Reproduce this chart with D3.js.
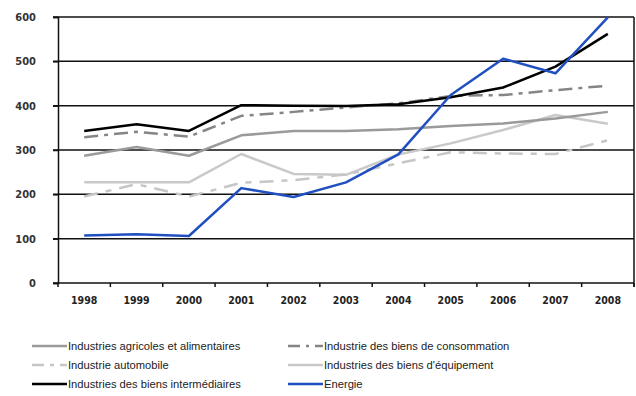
<!DOCTYPE html>
<html><head><meta charset="utf-8">
<script src="https://cdn.jsdelivr.net/npm/d3@7"></script>
<style>body{margin:0;background:#fff}svg{display:block}</style>
</head><body>
<svg id="c" width="636" height="396"></svg>
<script>
const years = ["1998","1999","2000","2001","2002","2003","2004","2005","2006","2007","2008"];
const yTicks = [0,100,200,300,400,500,600];
const agricoles = [287,307,287,333,343,343,347,354,360,371,386];
const consommation = [329,341,330,377,386,396,405,422,424,435,445];
const automobile = [195,223,195,226,232,245,270,295,292,291,322];
const equipement = [227,227,227,291,246,244,290,315,345,379,359];
const intermediaires = [343,358,343,401,400,399,403,419,441,488,562];
const energie = [107,110,106,214,194,227,290,424,506,473,599];
const seriesNames = ["Industries agricoles et alimentaires","Industrie des biens de consommation","Industrie automobile","Industries des biens d'équipement","Industries des biens intermédiaires","Energie"];
const seriesData = [agricoles, consommation, automobile, equipement, intermediaires, energie];
const seriesStyle = [
  {c:"#9a9a9a", d:null},
  {c:"#858585", d:"14,6,4,6"},
  {c:"#c6c6c6", d:"14,8,6,8"},
  {c:"#c9c9c9", d:null},
  {c:"#000000", d:null},
  {c:"#1f4fc0", d:null}
];
const drawOrder = [3,2,0,1,4,5];

const svg = d3.select("#c");
const L=58, R=634, T=17, B=283;
const x = d3.scaleBand().domain(years).range([L,R]);
const y = d3.scaleLinear().domain([0,600]).range([B,T]);

// gridlines
svg.append("g").selectAll("line").data(yTicks.filter(v=>v>0)).join("line")
  .attr("x1",L-5).attr("x2",R).attr("y1",d=>y(d)).attr("y2",d=>y(d))
  .attr("stroke","#111").attr("stroke-width",1.5);
// right border
svg.append("line").attr("x1",R).attr("x2",R).attr("y1",T).attr("y2",B+4).attr("stroke","#111").attr("stroke-width",1.5);

// y axis
const ya = svg.append("g").attr("transform",`translate(${L},0)`)
  .call(d3.axisLeft(y).tickValues(yTicks).tickSize(5).tickPadding(7));
ya.select(".domain").attr("stroke","#111").attr("stroke-width",1.5);
ya.selectAll(".tick line").attr("stroke","#111").attr("stroke-width",1.5);
ya.selectAll("text").attr("font-family","DejaVu Sans Condensed, DejaVu Sans").attr("font-size",11).attr("font-weight","bold").attr("fill","#333").attr("dx",-10);

// x axis
const xa = svg.append("g").attr("transform",`translate(0,${B})`)
  .call(d3.axisBottom(x).tickSize(0).tickPadding(14));
xa.select(".domain").attr("stroke","#111").attr("stroke-width",1.5).attr("d",`M${L-5},0H${R}`);
xa.selectAll("text").attr("font-family","DejaVu Sans Condensed, DejaVu Sans").attr("font-size",10.5).attr("font-weight","bold").attr("fill","#222");
const bounds = years.map(d=>x(d)).concat([R]);
svg.append("g").selectAll("line").data(bounds).join("line")
  .attr("x1",d=>d).attr("x2",d=>d).attr("y1",B).attr("y2",B+4)
  .attr("stroke","#111").attr("stroke-width",1.5);

// lines
const line = d3.line().x((d,i)=>x(years[i])+x.bandwidth()/2).y(d=>y(d));
drawOrder.forEach(k=>{
  svg.append("path").datum(seriesData[k]).attr("d",line)
    .attr("fill","none").attr("stroke",seriesStyle[k].c).attr("stroke-width",2.5)
    .attr("stroke-dasharray",seriesStyle[k].d).attr("stroke-linejoin","round");
});

// legend
const legPos = [[32,346],[288,346],[32,365],[288,365],[32,384],[288,384]];
seriesNames.forEach((n,k)=>{
  const [lx,ly] = legPos[k];
  svg.append("line").attr("x1",lx).attr("x2",lx+35).attr("y1",ly).attr("y2",ly)
    .attr("stroke",seriesStyle[k].c).attr("stroke-width",2.5)
    .attr("stroke-dasharray",k===1?"12,6,3,6":(k===2?"12,6,4,6":null));
  svg.append("text").attr("x",lx+36).attr("y",ly).attr("dy","0.35em")
    .attr("font-family","Liberation Sans, Arial").attr("font-size",11.2).attr("fill","#222").text(n);
});
</script>
</body></html>
